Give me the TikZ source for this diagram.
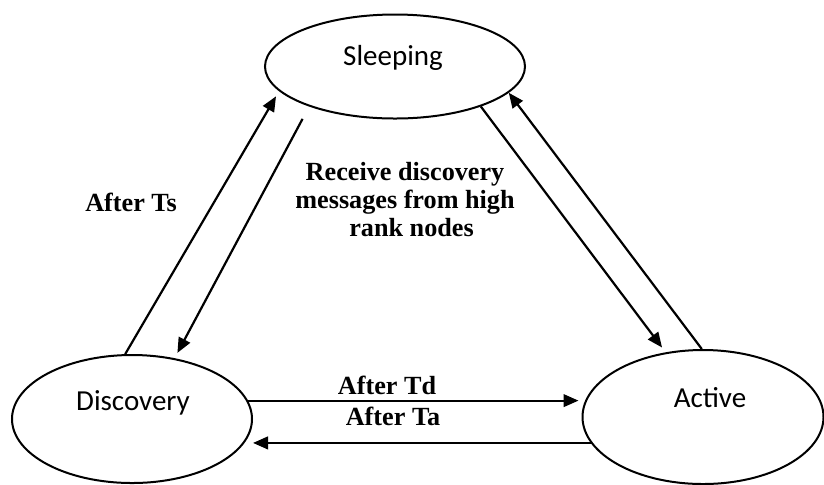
\documentclass[tikz,border=0pt]{standalone}
\usepackage{fontspec}
\setmainfont{Liberation Serif}
\newfontfamily\carlito{Carlito}
\usetikzlibrary{shapes.geometric, arrows.meta}
\tikzstyle{state} = [ellipse, draw, line width=1pt, inner sep=0pt]
\tikzstyle{statename} = [font=\carlito\fontsize{14.5}{17}\selectfont]
\tikzstyle{arrow} = [line width=1.1pt, -{Triangle[length=7.5pt,width=6.3pt]}]
\tikzstyle{lbl} = [font=\bfseries\fontsize{13.1}{14}\selectfont, align=center]

\begin{document}
\begin{tikzpicture}[x=0.5pt, y=-0.5pt]
      \useasboundingbox (0,0) rectangle (824,484);
      % states
      \node [state, minimum width=130pt, minimum height=52pt] (sleep) at (395,66.5) {};
      \node [state, minimum width=120pt, minimum height=64pt] (disc) at (132,419) {};
      \node [state, minimum width=120.5pt, minimum height=67pt] (act) at (703,417) {};
      \node [statename] (sleeptxt) at (393,58) {Sleeping};
      \node [statename] (disctxt) at (133,403) {Discovery};
      \node [statename] (acttxt) at (710,398) {Active};
      % transitions
      \draw [arrow, shorten >=3pt] (disc.96) -- (sleep.192);
      \draw [arrow, shorten <=7pt, shorten >=3pt] (sleep.205) -- (disc.55);
      \draw [arrow, shorten >=3pt] (sleep.335) -- (act.120);
      \draw [arrow] (act.91) -- (sleep.347);
      \draw [arrow, shorten >=1.5pt] (disc.9) -- (disc.9 -| act.west);
      \draw [arrow] (act.193) -- (act.193 -| disc.east);
      % labels
      \node [lbl] (ts) at (131,202) {After Ts};
      \node [lbl] (recv) at (405,200) {Receive discovery\\messages from high\\\ \ rank nodes};
      \node [lbl] (td) at (387,385) {After Td};
      \node [lbl] (ta) at (393,416) {After Ta};
\end{tikzpicture}
\end{document}
